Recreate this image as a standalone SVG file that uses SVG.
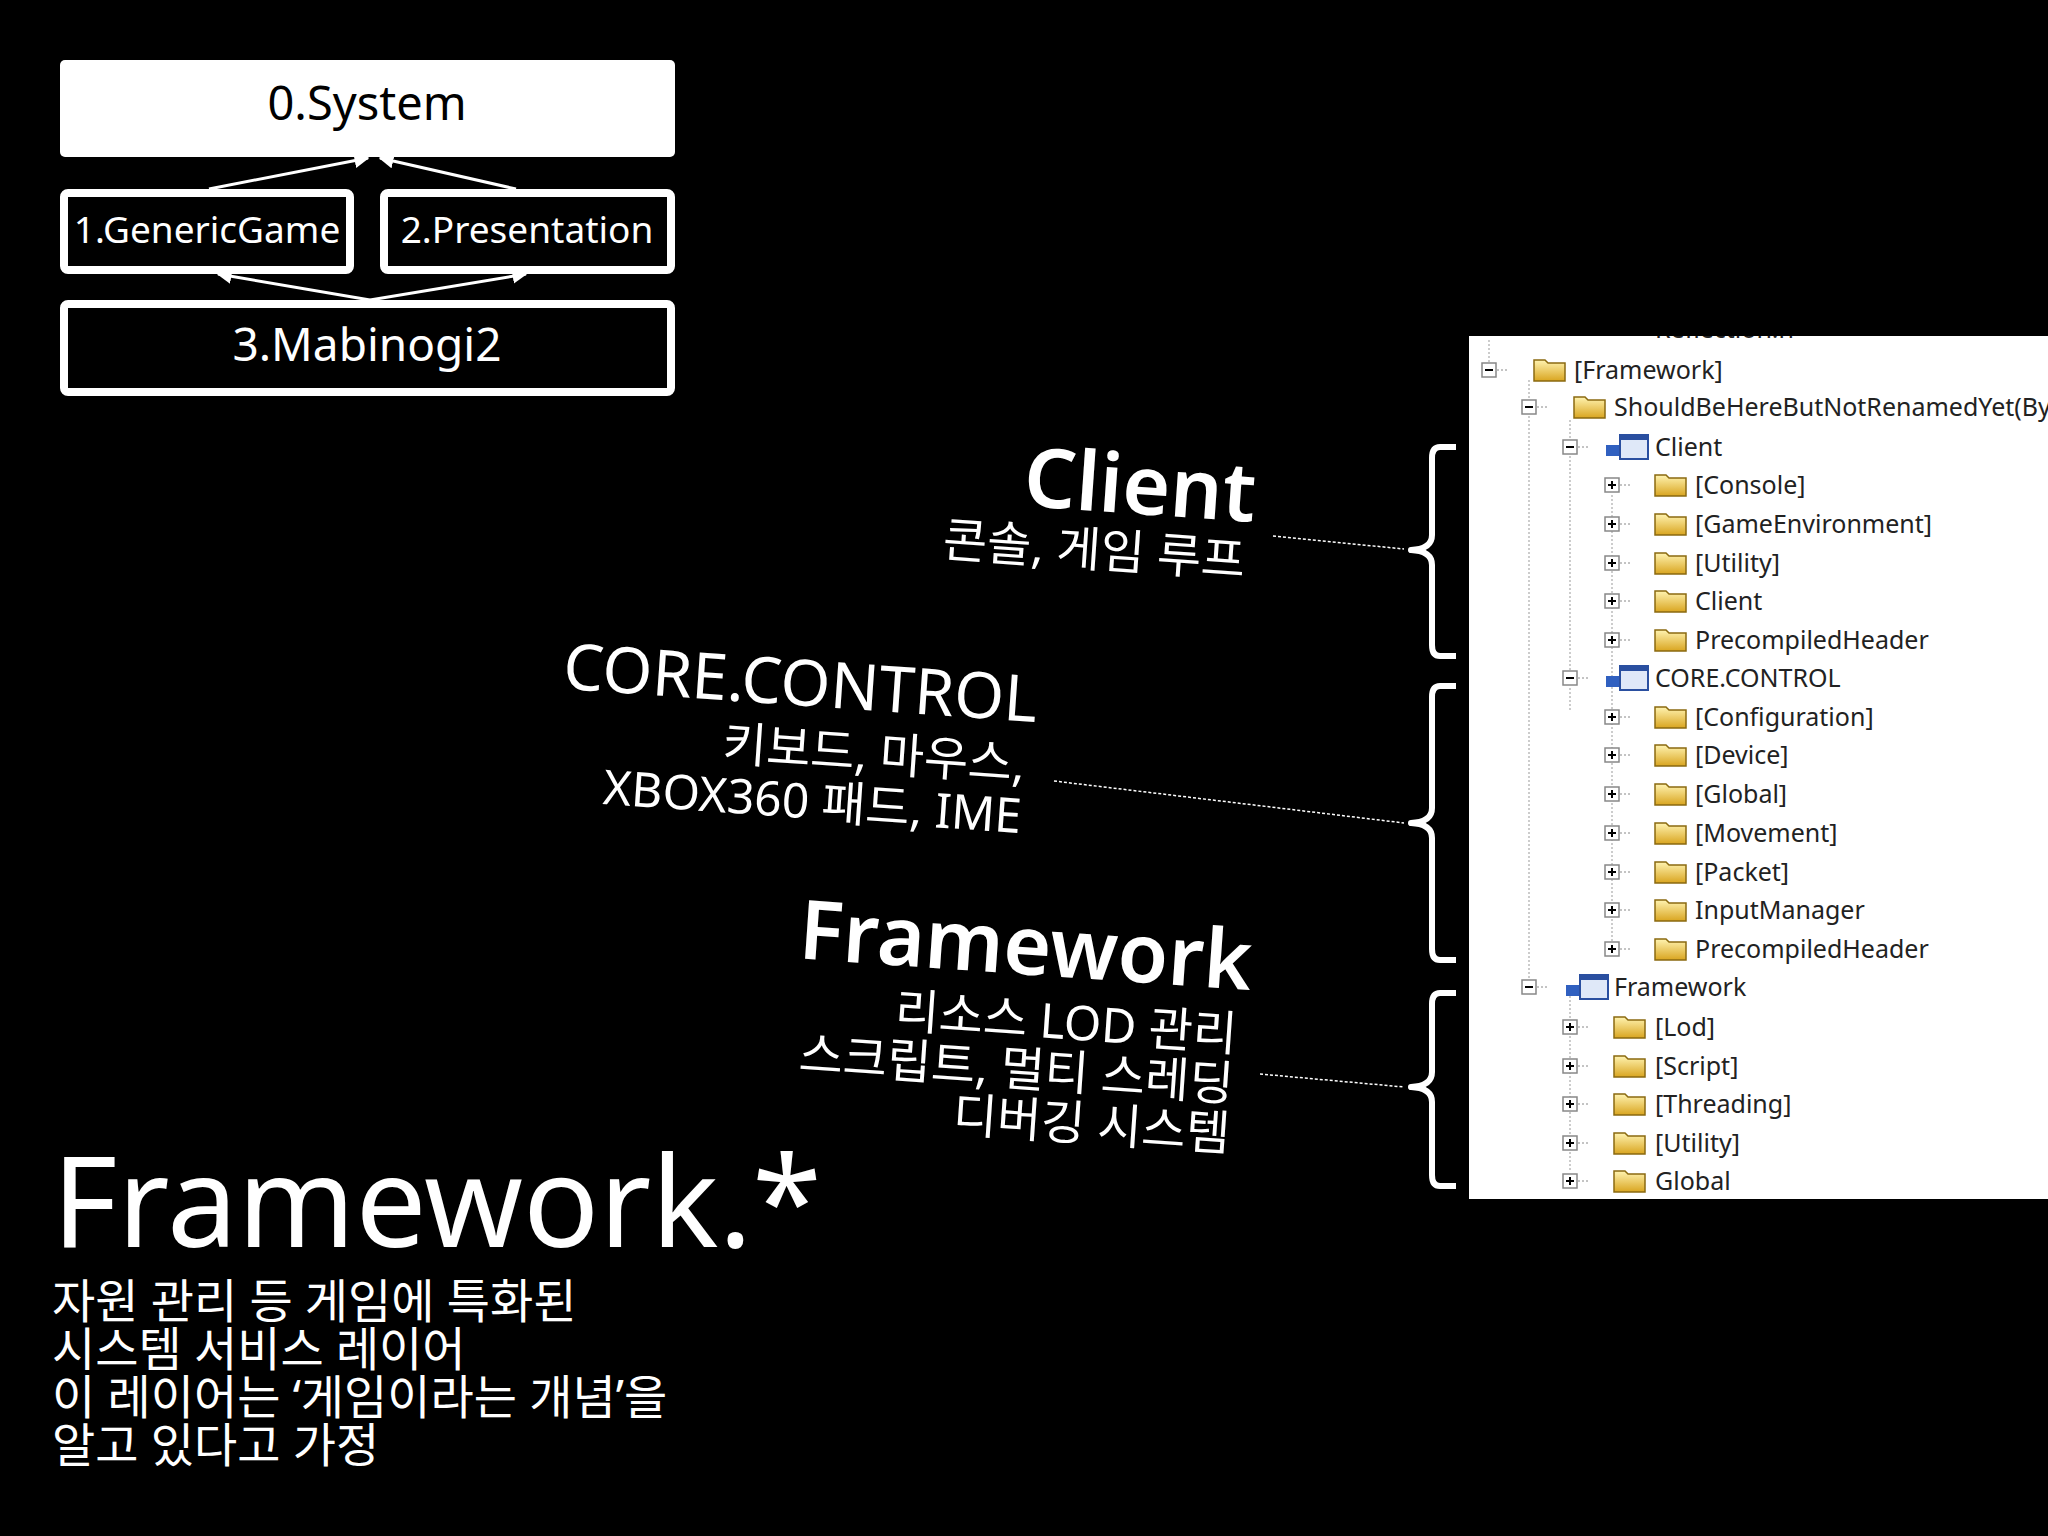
<svg xmlns="http://www.w3.org/2000/svg" xmlns:xlink="http://www.w3.org/1999/xlink" width="2048" height="1536" viewBox="0 0 2048 1536">
<style>
.k{font-family:"Noto Sans","Noto Sans CJK KR",sans-serif;fill:#fff}
.t{font-family:"Noto Sans","Noto Sans CJK KR",sans-serif;font-size:25px;fill:#222}
.box{fill:#000;stroke:#fff;stroke-width:8}
.ln{stroke:#fff;stroke-width:3;fill:none}
.ds{stroke:#fff;stroke-width:1.5;stroke-dasharray:3 2;fill:none}
.br{stroke:#fff;stroke-width:6;fill:none;stroke-linejoin:round}
</style>
<defs>
<marker id="ah" viewBox="0 0 10 10" refX="9" refY="5" markerWidth="5" markerHeight="5" orient="auto"><path d="M0,0L10,5L0,10z" fill="#fff"/></marker>
<g id="plus"><rect x="-7" y="-7" width="14" height="14" fill="#fff" stroke="#888" stroke-width="1.5"/><path d="M-4,0H4M0,-4V4" stroke="#000" stroke-width="2"/><path d="M8,0H20" stroke="#888" stroke-dasharray="2 2"/></g>
<g id="minus"><rect x="-7" y="-7" width="14" height="14" fill="#fff" stroke="#888" stroke-width="1.5"/><path d="M-4,0H4" stroke="#000" stroke-width="2"/><path d="M8,0H20" stroke="#888" stroke-dasharray="2 2"/></g>
<linearGradient id="fg" x1="0" y1="0" x2="0" y2="1"><stop offset="0" stop-color="#fff3b0"/><stop offset="1" stop-color="#d9a520"/></linearGradient>
<g id="fold"><path d="M0,-10h11l3,3h17v18h-31z" fill="url(#fg)" stroke="#8a6a10" stroke-width="1.5"/></g>
<g id="proj"><rect x="0" y="-12" width="28" height="24" fill="#dfe8f8" stroke="#2a4fa0" stroke-width="2"/><rect x="0" y="-12" width="28" height="5" fill="#2a4fa0"/><rect x="-14" y="-2" width="13" height="11" fill="#3060c0"/></g>
</defs>
<rect width="2048" height="1536" fill="#000"/>
<g id="n0"><rect x="60" y="60" width="615" height="97" rx="5" fill="#fff"/><text class="k" x="367" y="120" font-size="47" text-anchor="middle" style="fill:#000">0.System</text></g>
<g id="n1"><rect class="box" x="64" y="193" width="286" height="77" rx="4"/><text class="k" x="207" y="243" font-size="37" text-anchor="middle">1.GenericGame</text></g>
<g id="n2"><rect class="box" x="384" y="193" width="287" height="77" rx="4"/><text class="k" x="527" y="243" font-size="37" text-anchor="middle">2.Presentation</text></g>
<g id="n3"><rect class="box" x="64" y="304" width="607" height="88" rx="4"/><text class="k" x="367" y="361" font-size="46" text-anchor="middle">3.Mabinogi2</text></g>
<g id="connectors">
<path class="ln" marker-end="url(#ah)" d="M209,189L368,158"/>
<path class="ln" marker-end="url(#ah)" d="M516,189L380,158"/>
<path class="ln" marker-end="url(#ah)" d="M370,300L218,274"/>
<path class="ln" marker-end="url(#ah)" d="M370,300L526,274"/>
<path class="ds" d="M1273,536L1404,549"/>
<path class="ds" d="M1054,781L1404,823"/>
<path class="ds" d="M1260,1074L1404,1087"/>
</g>
<g id="braces">
<path class="br" d="M1456,447H1440Q1432,447 1432,458V535Q1432,549 1411,550Q1432,551 1432,565V645Q1432,656 1440,656H1456"/>
<path class="br" d="M1456,686H1440Q1432,686 1432,697V808Q1432,822 1411,823Q1432,824 1432,838V949Q1432,960 1440,960H1456"/>
<path class="br" d="M1456,993H1440Q1432,993 1432,1004V1072Q1432,1086 1411,1087Q1432,1088 1432,1102V1175Q1432,1186 1440,1186H1456"/>
</g>
<g id="labels">
<g transform="rotate(4 1254 522)"><text class="k" x="1254" y="522" font-size="82" font-weight="600" text-anchor="end">Client</text><text class="k" x="1248" y="578" font-size="48" text-anchor="end">콘솔, 게임 루프</text></g>
<g transform="rotate(4 1036 722)"><text class="k" x="1036" y="722" font-size="64" text-anchor="end">CORE.CONTROL</text><text class="k" x="1028" y="782" font-size="48" text-anchor="end">키보드, 마우스,</text><text class="k" x="1028" y="834" font-size="48" text-anchor="end">XBOX360 패드, IME</text></g>
<g transform="rotate(4 1250 990)"><text class="k" x="1250" y="990" font-size="82" font-weight="600" text-anchor="end">Framework</text><text class="k" x="1240" y="1052" font-size="48" text-anchor="end">리소스 LOD 관리</text><text class="k" x="1240" y="1102" font-size="48" text-anchor="end">스크립트, 멀티 스레딩</text><text class="k" x="1240" y="1152" font-size="48" text-anchor="end">디버깅 시스템</text></g>
</g>
<g id="bottom">
<text class="k" x="52" y="1247" font-size="126">Framework.*</text>
<text class="k" font-size="47"><tspan x="52" y="1318">자원 관리 등 게임에 특화된</tspan><tspan x="52" y="1366">시스템 서비스 레이어</tspan><tspan x="52" y="1414">이 레이어는 ‘게임이라는 개념’을</tspan><tspan x="52" y="1462">알고 있다고 가정</tspan></text>
</g>
<g id="tree">
<clipPath id="cp"><rect x="1469" y="336" width="579" height="863"/></clipPath>
<rect x="1469" y="336" width="579" height="863" fill="#fff"/>
<g clip-path="url(#cp)">
<path d="M1489,340V363M1529,380V980M1570,420V670M1570,688V712M1612,495V950M1570,996V1170" stroke="#999" stroke-dasharray="2 2"/>
<text class="t" x="1655" y="338">Reflection.h</text>
<use href="#minus" x="1489" y="370"/><use href="#fold" x="1534" y="370"/><text class="t" x="1574" y="379">[Framework]</text>
<use href="#minus" x="1529" y="407"/><use href="#fold" x="1574" y="407"/><text class="t" x="1614" y="416">ShouldBeHereButNotRenamedYet(ByT</text>
<use href="#minus" x="1570" y="447"/><use href="#proj" x="1620" y="447"/><text class="t" x="1655" y="456">Client</text>
<use href="#plus" x="1612" y="485"/><use href="#fold" x="1655" y="485"/><text class="t" x="1695" y="494">[Console]</text>
<use href="#plus" x="1612" y="524"/><use href="#fold" x="1655" y="524"/><text class="t" x="1695" y="533">[GameEnvironment]</text>
<use href="#plus" x="1612" y="563"/><use href="#fold" x="1655" y="563"/><text class="t" x="1695" y="572">[Utility]</text>
<use href="#plus" x="1612" y="601"/><use href="#fold" x="1655" y="601"/><text class="t" x="1695" y="610">Client</text>
<use href="#plus" x="1612" y="640"/><use href="#fold" x="1655" y="640"/><text class="t" x="1695" y="649">PrecompiledHeader</text>
<use href="#minus" x="1570" y="678"/><use href="#proj" x="1620" y="678"/><text class="t" x="1655" y="687">CORE.CONTROL</text>
<use href="#plus" x="1612" y="717"/><use href="#fold" x="1655" y="717"/><text class="t" x="1695" y="726">[Configuration]</text>
<use href="#plus" x="1612" y="755"/><use href="#fold" x="1655" y="755"/><text class="t" x="1695" y="764">[Device]</text>
<use href="#plus" x="1612" y="794"/><use href="#fold" x="1655" y="794"/><text class="t" x="1695" y="803">[Global]</text>
<use href="#plus" x="1612" y="833"/><use href="#fold" x="1655" y="833"/><text class="t" x="1695" y="842">[Movement]</text>
<use href="#plus" x="1612" y="872"/><use href="#fold" x="1655" y="872"/><text class="t" x="1695" y="881">[Packet]</text>
<use href="#plus" x="1612" y="910"/><use href="#fold" x="1655" y="910"/><text class="t" x="1695" y="919">InputManager</text>
<use href="#plus" x="1612" y="949"/><use href="#fold" x="1655" y="949"/><text class="t" x="1695" y="958">PrecompiledHeader</text>
<use href="#minus" x="1529" y="987"/><use href="#proj" x="1580" y="987"/><text class="t" x="1614" y="996">Framework</text>
<use href="#plus" x="1570" y="1027"/><use href="#fold" x="1614" y="1027"/><text class="t" x="1655" y="1036">[Lod]</text>
<use href="#plus" x="1570" y="1066"/><use href="#fold" x="1614" y="1066"/><text class="t" x="1655" y="1075">[Script]</text>
<use href="#plus" x="1570" y="1104"/><use href="#fold" x="1614" y="1104"/><text class="t" x="1655" y="1113">[Threading]</text>
<use href="#plus" x="1570" y="1143"/><use href="#fold" x="1614" y="1143"/><text class="t" x="1655" y="1152">[Utility]</text>
<use href="#plus" x="1570" y="1181"/><use href="#fold" x="1614" y="1181"/><text class="t" x="1655" y="1190">Global</text>
</g>
</g>
</svg>
